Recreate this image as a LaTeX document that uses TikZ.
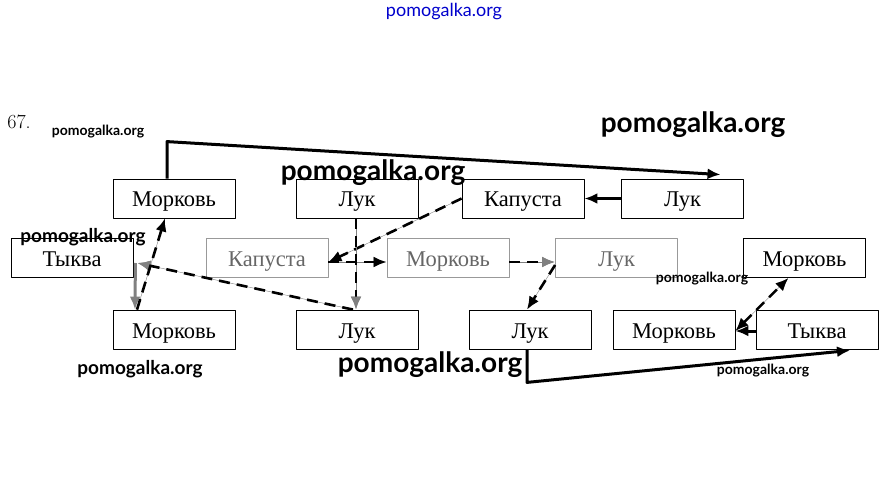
\documentclass[tikz,border=0pt]{standalone}
\usepackage{fontspec}
\newfontfamily\rufont{Liberation Serif}
\newfontfamily\wmfont{Lato}
\usetikzlibrary{arrows.meta}
\tikzset{
  box/.style={draw, line width=0.8pt, minimum width=122pt, minimum height=39pt, inner sep=0pt, text height=18pt, text depth=1pt, font=\rufont\fontsize{22.5}{24}\selectfont},
  pale/.style={box, draw=black!40, text=black!60},
  tip/.style={-{Latex[length=13pt,width=11pt]}},
  graytip/.style={-{Latex[length=13pt,width=11pt,color=black!50]}},
  dbl/.style={{Latex[length=13pt,width=11pt]}-{Latex[length=13pt,width=11pt]}},
  arr/.style={tip, line width=3pt},
  mix/.style={tip, line width=2.6pt, dash pattern=on 11pt off 7pt, preaction={draw=black!50, solid}},
  wm/.style={font=\wmfont\bfseries\fontsize{#1}{#1}\selectfont, inner sep=0pt},
}
\begin{document}
\begin{tikzpicture}[x=1pt, y=1pt, line join=round]
	\useasboundingbox (0,0) rectangle (886,488);
	% boxes
	\foreach \n/\x/\y/\t in {mork1/174/289.5/Морковь, luk1/357/289.5/Лук, kap1/523/289.5/Капуста, luk2/682.5/289.5/Лук,
		tyk1/72/230/Тыква, mork3/804.5/230/Морковь,
		mork4/174/158.5/Морковь, luk4/357/158.5/Лук, luk5/530/158.5/Лук, mork5/674/158.5/Морковь, tyk2/817/158.5/Тыква}
	\node[box] (\n) at (\x,\y) {\t};
	\foreach \n/\x/\t in {kap2/267/Капуста, mork2/448/Морковь, luk3/616.5/Лук}
	\node[pale] (\n) at (\x,230) {\t};
	\node[font=\fontsize{20}{20}\selectfont, inner sep=0pt] (num) at (19,366) {67.};
	% arrows
	\draw[arr] ([xshift=-7pt]mork1.north) -- ++(0,37) -- ([shift={(38pt,4pt)}]luk2.north);
	\draw[arr] (luk2) -- (kap1);
	\draw[mix] (kap1.west) -- ([yshift=-4pt]kap2.east);
	\draw[mix] ([yshift=-4pt]kap2.east) -- ([yshift=-4pt]mork2.west);
	\draw[mix, graytip] ([xshift=-1pt]luk1.south) -- ([xshift=-1pt]luk4.north);
	\draw[mix, graytip] ([xshift=-4pt]luk4.north) -- ([shift={(4pt,-5pt)}]tyk1.east);
	\draw[arr, black!50] ([shift={(2pt,-5pt)}]tyk1.east) -- ([xshift=-39pt]mork4.north);
	\draw[mix] ([xshift=-37pt]mork4.north) -- ([xshift=-9pt]mork1.south);
	\draw[mix, graytip] ([yshift=-4pt]mork2.east) -- ([yshift=-4pt]luk3.west);
	\draw[mix] ([yshift=-7pt]luk3.west) -- ([xshift=-3pt]luk5.north);
	\draw[arr] ([xshift=-3pt]luk5.south) -- ++(0,-33) -- ([shift={(33pt,-1pt)}]tyk2.south);
	\draw[arr] ([yshift=-1.5pt]tyk2.west) -- ([yshift=-1.5pt]mork5.east);
	\draw[mix, dbl] ([yshift=-1.5pt]mork5.east) -- ([xshift=-16pt]mork3.south);
	% watermarks
	\node[font=\wmfont\fontsize{18}{18}\selectfont, text=blue!80!black, inner sep=0pt] (wm0) at (444,476) {pomogalka.org};
	\node[wm=14] (wm1) at (98,356) {pomogalka.org};
	\node[wm=28] (wm2) at (693,363) {pomogalka.org};
	\node[wm=28] (wm3) at (373,315) {pomogalka.org};
	\node[wm=19] (wm4) at (83,251) {pomogalka.org};
	\node[wm=14] (wm5) at (702,209) {pomogalka.org};
	\node[wm=19] (wm6) at (140,119) {pomogalka.org};
	\node[wm=28] (wm7) at (430,123) {pomogalka.org};
	\node[wm=14] (wm8) at (763,117) {pomogalka.org};
\end{tikzpicture}
\end{document}
